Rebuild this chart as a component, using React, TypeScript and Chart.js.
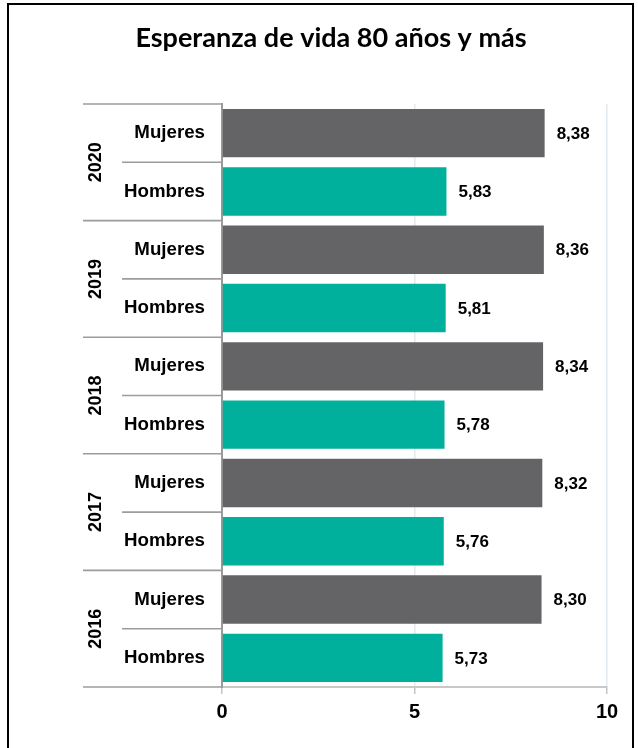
import React, { useEffect, useRef } from "react";
import { Chart, registerables } from "chart.js";

Chart.register(...registerables);

const TITLE = "Esperanza de vida 80 años y más";
const years = ["2020", "2019", "2018", "2017", "2016"];
const sexes = ["Mujeres", "Hombres"];
const mujeres = [8.38, 8.36, 8.34, 8.32, 8.3];
const hombres = [5.83, 5.81, 5.78, 5.76, 5.73];
const xTicks = [0, 5, 10];

const COLOR_M = "#646466";
const COLOR_H = "#00B09C";

const labels: string[] = [];
const values: number[] = [];
const colors: string[] = [];
years.forEach((y, i) => {
  labels.push(sexes[0]);
  values.push(mujeres[i]);
  colors.push(COLOR_M);
  labels.push(sexes[1]);
  values.push(hombres[i]);
  colors.push(COLOR_H);
});

const fmt = (v: number) => v.toFixed(2).replace(".", ",");

const decorPlugin = {
  id: "decor",
  beforeDraw(chart: any) {
    const ctx = chart.ctx;
    ctx.save();
    ctx.fillStyle = "#ffffff";
    ctx.fillRect(0, 0, chart.width, chart.height);
    ctx.restore();
  },
  afterDraw(chart: any) {
    const ctx = chart.ctx;
    const yScale = chart.scales.y;
    const area = chart.chartArea;
    const n = labels.length;
    const band = n > 1 ? yScale.getPixelForValue(1) - yScale.getPixelForValue(0) : 0;
    ctx.save();
    // separators
    ctx.strokeStyle = "#9c9c9c";
    ctx.lineWidth = 1.6;
    for (let i = 0; i <= n; i++) {
      const y = yScale.getPixelForValue(0) - band / 2 + i * band;
      const x0 = i % 2 === 0 ? 83 : 122;
      ctx.beginPath();
      ctx.moveTo(x0, y);
      ctx.lineTo(area.left, y);
      ctx.stroke();
    }
    // year labels
    ctx.fillStyle = "#000000";
    ctx.font = "bold 18px 'Liberation Sans', Arial, sans-serif";
    ctx.textAlign = "center";
    ctx.textBaseline = "middle";
    years.forEach((yr, i) => {
      const yc = (yScale.getPixelForValue(2 * i) + yScale.getPixelForValue(2 * i + 1)) / 2;
      ctx.save();
      ctx.translate(96, yc);
      ctx.rotate(-Math.PI / 2);
      ctx.fillText(yr, 0, 0);
      ctx.restore();
    });
    // value labels
    const meta = chart.getDatasetMeta(0);
    ctx.font = "bold 17px 'Liberation Sans', Arial, sans-serif";
    ctx.textAlign = "left";
    meta.data.forEach((bar: any, i: number) => {
      ctx.fillText(fmt(values[i]), bar.x + 12, bar.y + 1);
    });
    // outer border
    ctx.strokeStyle = "#000000";
    ctx.lineWidth = 2;
    ctx.beginPath();
    ctx.moveTo(8, chart.height + 2);
    ctx.lineTo(8, 4);
    ctx.lineTo(633, 4);
    ctx.lineTo(633, chart.height + 2);
    ctx.stroke();
    ctx.restore();
  },
};

export default function App() {
  const ref = useRef<HTMLCanvasElement | null>(null);
  useEffect(() => {
    document.body.style.margin = "0";
    document.body.style.overflow = "hidden";
    if (!ref.current) return;
    const chart = new Chart(ref.current, {
      type: "bar",
      data: {
        labels,
        datasets: [
          {
            data: values,
            backgroundColor: colors,
            borderWidth: 0,
            categoryPercentage: 1,
            barPercentage: 0.83,
          },
        ],
      },
      options: {
        indexAxis: "y",
        animation: false,
        responsive: false,
        layout: { padding: { left: 55, right: 31, top: 0, bottom: 0 } },
        plugins: {
          legend: { display: false },
          tooltip: { enabled: false },
          title: {
            display: true,
            text: TITLE,
            color: "#000000",
            font: { family: "Lato, 'Open Sans', sans-serif", size: 27, weight: "bold", lineHeight: 1.2 },
            padding: { top: 22, bottom: 49.6 },
          },
        },
        scales: {
          x: {
            min: 0,
            max: 10,
            afterBuildTicks: (scale: any) => {
              scale.ticks = xTicks.map((v) => ({ value: v }));
            },
            afterFit: (scale: any) => {
              scale.height = 61;
            },
            grid: {
              color: "#e2eaef",
              lineWidth: 1.5,
              drawTicks: true,
              tickLength: 7,
              tickColor: "#c4c4c4",
            },
            border: { display: true, color: "#c8c8c8", width: 2 },
            ticks: {
              color: "#000000",
              padding: 6,
              font: { family: "'Liberation Sans', Arial, sans-serif", size: 20, weight: "bold" },
            },
          },
          y: {
            afterFit: (scale: any) => {
              scale.width = 167;
            },
            grid: { display: false, drawTicks: false },
            border: { display: true, color: "#9a9a9a", width: 2 },
            ticks: {
              color: "#000000",
              padding: 17,
              font: { family: "'Liberation Sans', Arial, sans-serif", size: 18.7, weight: "bold" },
            },
          },
        },
      },
      plugins: [decorPlugin],
    });
    return () => chart.destroy();
  }, []);
  return (
    <div style={{ width: 638, height: 748 }}>
      <canvas ref={ref} width={638} height={748} />
    </div>
  );
}
